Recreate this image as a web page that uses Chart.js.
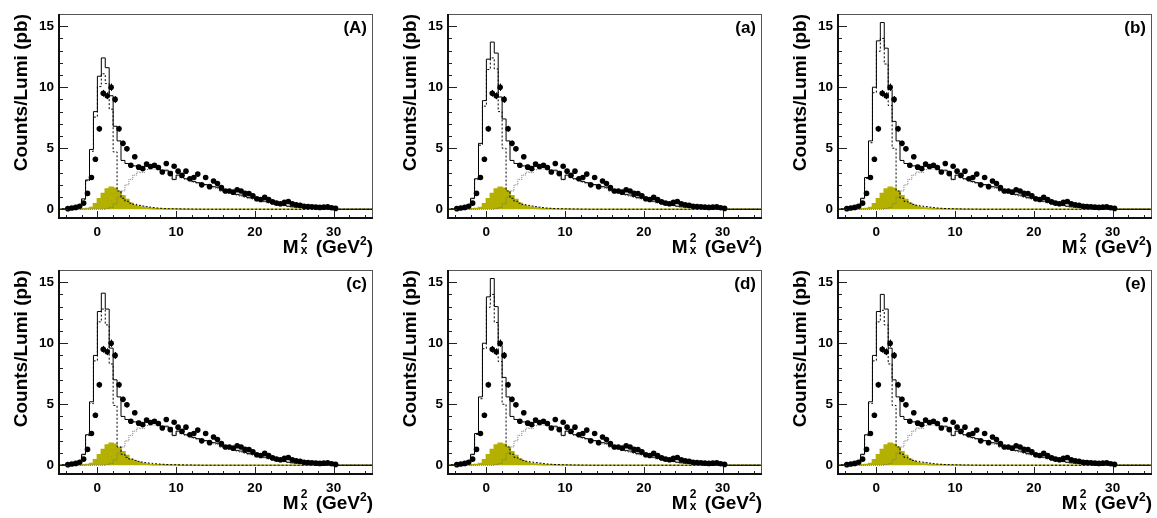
<!DOCTYPE html>
<html><head><meta charset="utf-8">
<script src="https://cdn.jsdelivr.net/npm/chart.js@4/dist/chart.umd.min.js"></script>
<style>
body{margin:0;background:#fff;width:1157px;height:518px;overflow:hidden;font-family:"Liberation Sans",Arial,sans-serif;}
.panel{position:absolute;width:389px;height:258px;}
.panel canvas{position:absolute;left:0;top:0;}
.lab{position:absolute;right:22px;top:19px;font-weight:bold;font-size:17px;line-height:17px;color:#000;}
.xt{position:absolute;right:16px;top:237px;font-weight:bold;font-size:19px;line-height:19px;white-space:nowrap;color:#000;}
.stk{display:inline-block;position:relative;top:-5px;vertical-align:top;font-size:12px;line-height:12px;text-align:center;margin:0 3px 0 2px;}
.stk span{display:block;}
.sup{font-size:12px;position:relative;top:-8px;}
</style>
</head><body>
<script>
// ---------- binning ----------
const HIST_X0 = -5.0;      // first bin edge
const BIN_W = 0.5;         // bin width (GeV^2)
const DATA_X0 = -3.75;     // first data point (bin centre)
const X_MIN = -5, X_MAX = 35, Y_MIN = -0.8, Y_MAX = 16;
const X_TICKS = [0, 10, 20, 30];
const Y_TICKS = [0, 5, 10, 15];
const X_MINOR = [-4, -2, 2, 4, 6, 8, 12, 14, 16, 18, 22, 24, 26, 28, 32, 34];
const Y_MINOR = [1, 2, 3, 4, 6, 7, 8, 9, 11, 12, 13, 14, 16];
const PANEL_LABELS = ['(A)', '(a)', '(b)', '(c)', '(d)', '(e)'];

// ---------- data (identical in all panels) ----------
const dataVals = [0.05,0.1,0.15,0.25,0.5, 1.3,2.6,4.1,6.6,9.5, 9.3,10.0,9.0,6.6,5.4,
  4.95,3.6,4.3,3.45,3.33, 3.7,3.5,3.6,3.42,3.05, 3.75,2.92,3.52,3.12,2.78,
  3.12,2.5,2.6,2.88,2.0, 2.6,1.85,2.32,2.1,1.78, 1.5,1.5,1.4,1.6,1.5,
  1.3,1.28,1.1,0.86,0.8, 0.97,0.8,0.6,0.5,0.45, 0.56,0.64,0.45,0.37,0.32,
  0.24,0.22,0.2,0.17,0.15, 0.17,0.2,0.12,0.07];
const dataErr = [0.03,0.04,0.05,0.06,0.08, 0.12,0.17,0.2,0.24,0.28, 0.28,0.3,0.28,0.24,0.22,
  0.2,0.18,0.19,0.17,0.17, 0.17,0.17,0.17,0.16,0.16, 0.17,0.15,0.16,0.15,0.15,
  0.15,0.14,0.14,0.15,0.13, 0.14,0.12,0.13,0.13,0.12, 0.11,0.11,0.11,0.11,0.11,
  0.1,0.1,0.1,0.09,0.08, 0.09,0.08,0.07,0.07,0.06, 0.07,0.07,0.06,0.05,0.05,
  0.04,0.04,0.04,0.04,0.03, 0.04,0.04,0.03,0.02];

// ---------- shared MC components ----------
// bins -5.0 .. 3.5 (head, 18 bins)
const yellowHead = [0,0,0,0,0,0,0.01,0.03,0.07,0.15,0.45,0.85,1.3,1.65,1.8,1.72,1.45,1.1];
const greyHead   = [0,0,0,0,0,0,0,0,0,0,0,0,0,0.05,0.15,0.45,1.0,1.5];
// bins 4.0 .. 34.5 (tail, 62 bins)
const yellowTail = [0.8,0.5,0.32,0.22,0.15,0.1,0.07,0.05,0.04,0.03,0.02,0.02,0.01,0.01,
  0,0,0,0,0,0,0,0,0,0,0,0,0,0,0,0,0,0,0,0,0,0,0,0,0,0,0,0,0,0,0,0,0,0,0,0,0,0,0,0,0,0,0,0,0,0,0,0];
const greyTail = [2.0,2.45,2.8,3.05,3.0, 3.25,3.3,3.3,3.25,2.95, 3.1,3.0,2.4,2.75,2.55,
  2.45,2.35,2.2,2.1,2.0, 1.93,1.85,1.75,1.7,1.45, 1.43,1.33,1.23,1.13,1.07,
  0.97,0.87,0.82,0.68,0.76, 0.6,0.5,0.44,0.35,0.29, 0.28,0.22,0.18,0.15,0.12,
  0.1,0.08,0.06,0.05,0.04, 0.03,0.02,0.01, 0,0,0,0,0,0,0,0,0];
const dashTail = [0.65,0.5,0.4,0.32,0.26,0.21,0.17,0.13,0.1,0.08,0.06,0.05,0.04,0.03,0.03,0.02,0.02,0.01,0.01,
  0,0,0,0,0,0,0,0,0,0,0,0,0,0,0,0,0,0,0,0,0,0,0,0,0,0,0,0,0,0,0,0,0,0,0,0,0,0,0,0,0,0,0];
const solidTail = [3.75,3.55,3.55,3.6,3.4, 3.55,3.55,3.5,3.4,3.05, 3.2,3.1,2.45,2.8,2.6,
  2.5,2.4,2.28,2.18,2.08, 2.02,1.95,1.85,1.8,1.55, 1.53,1.43,1.32,1.22,1.16,
  1.05,0.95,0.9,0.75,0.83, 0.66,0.56,0.49,0.39,0.33, 0.31,0.25,0.2,0.17,0.14,
  0.11,0.09,0.07,0.06,0.05, 0.04,0.025,0.015, 0,0,0,0,0,0,0,0,0];

// ---------- per-panel peak region (bins -5.0 .. 3.5) ----------
const solidHeadA = [0,0,0.03,0.05,0.1,0.18,0.35,0.85,2.4,4.9,8.0,10.9,12.4,11.6,9.3,6.8,5.6,4.0];
const dashHeadA  = [0,0,0.03,0.05,0.1,0.18,0.34,0.82,2.33,4.75,7.55,10.05,11.1,10.3,8.2,4.7,1.5,0.9];
const solidHeadLa = [0,0,0.03,0.05,0.1,0.18,0.35,0.9,2.5,5.4,8.9,12.3,13.7,12.8,9.2,7.4,5.6,4.0];
const dashHeadLa  = [0,0,0.03,0.05,0.1,0.18,0.34,0.87,2.43,5.25,8.45,11.45,12.4,11.5,8.0,5.0,1.5,0.9];
const solidHeadLb = [0,0,0.03,0.05,0.1,0.18,0.35,0.9,2.6,5.6,10.0,13.8,15.3,13.2,9.8,7.2,5.6,4.0];
const dashHeadLb  = [0,0,0.03,0.05,0.1,0.18,0.34,0.87,2.53,5.45,9.55,12.95,14.0,11.9,8.5,5.0,1.5,0.9];
const solidHeadLc = [0,0,0.03,0.05,0.1,0.18,0.35,0.9,2.5,5.2,9.0,12.6,14.1,12.8,9.6,7.0,5.6,4.0];
const dashHeadLc  = [0,0,0.03,0.05,0.1,0.18,0.34,0.87,2.43,5.05,8.55,11.75,12.8,11.5,8.3,4.9,1.5,0.9];
const solidHeadLd = [0,0,0.03,0.05,0.1,0.18,0.35,0.9,2.6,5.6,10.0,13.8,15.3,13.0,9.8,7.2,5.6,4.0];
const dashHeadLd  = [0,0,0.03,0.05,0.1,0.18,0.34,0.87,2.53,5.45,9.55,12.95,14.0,11.7,8.5,5.0,1.5,0.9];
const solidHeadLe = [0,0,0.03,0.05,0.1,0.18,0.35,0.9,2.5,5.2,9.0,12.6,14.0,12.8,9.6,7.0,5.6,4.0];
const dashHeadLe  = [0,0,0.03,0.05,0.1,0.18,0.34,0.87,2.43,5.05,8.55,11.75,12.7,11.5,8.3,4.9,1.5,0.9];

const PANELS = [
  [solidHeadA, dashHeadA], [solidHeadLa, dashHeadLa], [solidHeadLb, dashHeadLb],
  [solidHeadLc, dashHeadLc], [solidHeadLd, dashHeadLd], [solidHeadLe, dashHeadLe]
];

// ---------- helpers ----------
function histPoints(vals){
  const pts = [{x: HIST_X0, y: 0}];
  vals.forEach((v, i) => pts.push({x: HIST_X0 + i * BIN_W, y: v}));
  pts.push({x: HIST_X0 + vals.length * BIN_W, y: vals[vals.length - 1]});
  return pts;
}
const dataPts = dataVals.map((v, i) => ({x: DATA_X0 + i * BIN_W, y: v, e: dataErr[i]}));

const OLIVE = '#b4b000';
const FONT = '"Liberation Sans", Arial, Helvetica, sans-serif';

const framePlugin = {
  id: 'rootFrame',
  afterDatasetsDraw(chart){
    const {ctx, chartArea: a, scales: {x, y}} = chart;
    ctx.save();
    ctx.beginPath(); ctx.rect(a.left, a.top, a.right - a.left, a.bottom - a.top); ctx.clip();
    // error bars
    ctx.strokeStyle = '#000'; ctx.lineWidth = 1;
    dataPts.forEach(p => {
      const px = Math.round(x.getPixelForValue(p.x)) + 0.5;
      ctx.beginPath();
      ctx.moveTo(px, y.getPixelForValue(p.y - p.e));
      ctx.lineTo(px, y.getPixelForValue(p.y + p.e));
      ctx.stroke();
    });
    // inward ticks
    ctx.strokeStyle = '#222'; ctx.lineWidth = 1;
    const yt = (v, len) => { const py = Math.round(y.getPixelForValue(v)) + 0.5;
      ctx.beginPath(); ctx.moveTo(a.left, py); ctx.lineTo(a.left + len, py); ctx.stroke(); };
    const xt = (v, len) => { const px = Math.round(x.getPixelForValue(v)) + 0.5;
      ctx.beginPath(); ctx.moveTo(px, a.bottom); ctx.lineTo(px, a.bottom - len); ctx.stroke(); };
    Y_TICKS.forEach(v => yt(v, 10)); Y_MINOR.forEach(v => yt(v, 5));
    X_TICKS.forEach(v => xt(v, 8)); X_MINOR.forEach(v => xt(v, 4));
    ctx.restore();
    // frame
    ctx.save();
    ctx.strokeStyle = '#555'; ctx.lineWidth = 1;
    ctx.strokeRect(a.left + 0.5, a.top + 0.5, a.right - a.left - 1, a.bottom - a.top - 1);
    ctx.strokeStyle = '#111'; ctx.lineWidth = 2;
    ctx.beginPath(); ctx.moveTo(a.left + 1, a.top); ctx.lineTo(a.left + 1, a.bottom - 1); ctx.lineTo(a.right, a.bottom - 1); ctx.stroke();
    ctx.restore();
  }
};

function makePanel(idx){
  const col = idx % 3, row = Math.floor(idx / 3);
  const div = document.createElement('div');
  div.className = 'panel';
  div.style.left = [0, 389, 779][col] + 'px';
  div.style.top = (row * 256) + 'px';
  const cv = document.createElement('canvas');
  cv.width = 389; cv.height = 258;
  div.appendChild(cv);
  const lab = document.createElement('div');
  lab.className = 'lab'; lab.textContent = PANEL_LABELS[idx];
  div.appendChild(lab);
  const xtl = document.createElement('div');
  xtl.className = 'xt';
  xtl.innerHTML = 'M<span class="stk"><span>2</span><span>x</span></span> (GeV<span class="sup">2</span>)';
  div.appendChild(xtl);
  document.body.appendChild(div);

  const [solidHead, dashHead] = PANELS[idx];
  const solid = histPoints(solidHead.concat(solidTail));
  const dash = histPoints(dashHead.concat(dashTail));
  const grey = histPoints(greyHead.concat(greyTail));
  const yel = histPoints(yellowHead.concat(yellowTail));

  new Chart(cv, {
    data: {
      datasets: [
        {type: 'scatter', data: dataPts, pointRadius: 2.8, pointBackgroundColor: '#000', pointBorderWidth: 0, order: 1},
        {type: 'line', data: solid, stepped: 'after', borderColor: '#000', borderWidth: 1, pointRadius: 0, fill: false, order: 2},
        {type: 'line', data: dash, stepped: 'after', borderColor: '#000', borderWidth: 1, borderDash: [2, 2], pointRadius: 0, fill: false, order: 3},
        {type: 'line', data: grey, stepped: 'after', borderColor: '#777', borderWidth: 1, borderDash: [1, 1], pointRadius: 0, fill: false, order: 4},
        {type: 'line', data: yel, stepped: 'after', borderColor: OLIVE, backgroundColor: OLIVE, borderWidth: 1.5, pointRadius: 0, fill: 'origin', order: 5}
      ]
    },
    options: {
      responsive: false, animation: false, devicePixelRatio: 1,
      events: [],
      layout: {padding: {left: 0, right: 16, top: 14, bottom: 0}},
      plugins: {legend: {display: false}, tooltip: {enabled: false}},
      scales: {
        x: {type: 'linear', min: X_MIN, max: X_MAX,
            grid: {display: false, drawTicks: false}, border: {display: false},
            afterBuildTicks: s => { s.ticks = X_TICKS.map(v => ({value: v})); },
            afterFit: s => { s.height = 39; },
            ticks: {padding: 5, color: '#000', font: {family: FONT, size: 13.5, weight: 'bold'}, maxRotation: 0}},
        y: {type: 'linear', min: Y_MIN, max: Y_MAX,
            grid: {display: false, drawTicks: false}, border: {display: false},
            afterBuildTicks: s => { s.ticks = Y_TICKS.map(v => ({value: v})); },
            afterFit: s => { s.width = 58; },
            ticks: {padding: 4, color: '#000', font: {family: FONT, size: 13.5, weight: 'bold'}},
            title: {display: true, text: 'Counts/Lumi (pb)', align: 'end', color: '#000',
                    font: {family: FONT, size: 19, weight: 'bold'}, padding: {top: 10, bottom: 0}}}
      }
    },
    plugins: [framePlugin]
  });
}
for (let i = 0; i < 6; i++) makePanel(i);
</script>
</body></html>
